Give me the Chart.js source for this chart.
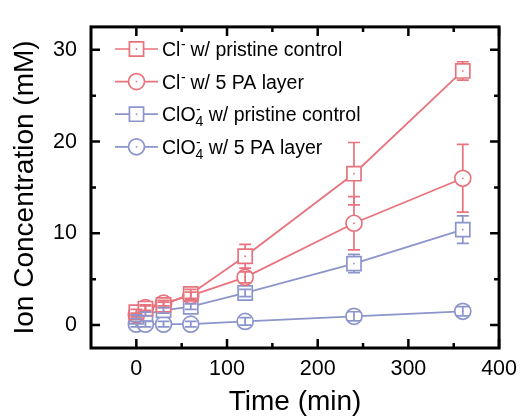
<!DOCTYPE html>
<html>
<head>
<meta charset="utf-8">
<script src="https://cdn.jsdelivr.net/npm/chart.js@4.4.1/dist/chart.umd.min.js"></script>
<style>
  html, body { margin: 0; padding: 0; background: #fff; }
</style>
</head>
<body>
<canvas id="ionChart" width="525" height="419"></canvas>
<script>
// ---- data ----
const times = [0, 10, 30, 60, 120, 240, 360];

const clPristine = [1.4, 1.8, 2.2, 3.4, 7.5, 16.5, 27.7];
const clPristineErr = [0.3, 0.3, 0.3, 0.5, 1.3, 3.4, 1.0];

const clPA = [1.1, 1.9, 2.4, 3.2, 5.2, 11.1, 16.0];
const clPAErr = [0.2, 0.3, 0.3, 0.4, 0.6, 2.9, 3.7];

const clo4Pristine = [0.9, 1.2, 1.6, 2.0, 3.5, 6.7, 10.4];
const clo4PristineErr = [0.2, 0.2, 0.3, 0.3, 0.4, 1.0, 1.5];

const clo4PA = [0.1, 0.1, 0.1, 0.1, 0.4, 0.95, 1.5];
const clo4PAErr = [0.3, 0.3, 0.3, 0.3, 0.4, 0.5, 0.5];

const xMajor = [0, 100, 200, 300, 400];
const xMinor = [50, 150, 250, 350];
const yMajor = [0, 10, 20, 30];
const yMinor = [5, 15, 25];

// legend pieces: base, superscript, subscript, rest
const legendText = [
  ['Cl', '-', '', ' w/ pristine control'],
  ['Cl', '-', '', ' w/ 5 PA layer'],
  ['ClO', '-', '4', ' w/ pristine control'],
  ['ClO', '-', '4', ' w/ 5 PA layer']
];

const RED = '#E8737D';
const BLUE = '#8C95CB';
const FONT = "'Liberation Sans', Arial, sans-serif";

function series(values, errs, color, shape) {
  return {
    data: times.map((t, i) => ({ x: t, y: values[i] })),
    errors: errs,
    borderColor: color,
    backgroundColor: color,
    borderWidth: 1.8,
    pointStyle: shape,
    pointRadius: shape === 'rect' ? 10 : 8,
    pointBorderWidth: 1.7,
    pointBorderColor: color,
    pointBackgroundColor: '#fff',
    pointHoverRadius: 0,
    tension: 0
  };
}

// markers' half height, used to start error bars at the marker edge
function halfSize(ds) {
  return ds.pointStyle === 'rect' ? ds.pointRadius * Math.SQRT1_2 : ds.pointRadius;
}

const errorBars = {
  id: 'errorBars',
  afterDatasetsDraw(chart) {
    const { ctx } = chart;
    const y = chart.scales.y;
    chart.data.datasets.forEach((ds, di) => {
      const meta = chart.getDatasetMeta(di);
      ctx.save();
      ctx.strokeStyle = ds.borderColor;
      ctx.fillStyle = ds.borderColor;
      ctx.lineWidth = 1.7;
      meta.data.forEach((pt, i) => {
        const v = ds.data[i].y, e = ds.errors[i];
        const yTop = y.getPixelForValue(v + e);
        const yBot = y.getPixelForValue(v - e);
        const h = halfSize(ds);
        ctx.beginPath();
        if (pt.y - yTop > h) { ctx.moveTo(pt.x, pt.y - h); } else { ctx.moveTo(pt.x, pt.y); }
        ctx.lineTo(pt.x, yTop);
        if (yBot - pt.y > h) { ctx.moveTo(pt.x, pt.y + h); } else { ctx.moveTo(pt.x, pt.y); }
        ctx.lineTo(pt.x, yBot);
        ctx.moveTo(pt.x - 6, yTop); ctx.lineTo(pt.x + 6, yTop);
        ctx.moveTo(pt.x - 6, yBot); ctx.lineTo(pt.x + 6, yBot);
        ctx.stroke();
        // center dot
        ctx.beginPath();
        ctx.arc(pt.x, pt.y, 0.9, 0, Math.PI * 2);
        ctx.fill();
      });
      ctx.restore();
    });
  }
};

// inward ticks on four sides + thick frame
const frame = {
  id: 'frame',
  afterDraw(chart) {
    const { ctx, chartArea: a } = chart;
    const xs = chart.scales.x, ys = chart.scales.y;
    ctx.save();
    ctx.strokeStyle = '#000';
    ctx.lineWidth = 2.5;
    ctx.beginPath();
    const tick = (vals, len) => {
      vals.forEach(v => {
        const px = xs.getPixelForValue(v);
        ctx.moveTo(px, a.bottom); ctx.lineTo(px, a.bottom - len);
        ctx.moveTo(px, a.top); ctx.lineTo(px, a.top + len);
      });
    };
    const tickY = (vals, len) => {
      vals.forEach(v => {
        const py = ys.getPixelForValue(v);
        ctx.moveTo(a.left, py); ctx.lineTo(a.left + len, py);
        ctx.moveTo(a.right, py); ctx.lineTo(a.right - len, py);
      });
    };
    tick(xMajor, 9); tick(xMinor, 5);
    tickY(yMajor, 9); tickY(yMinor, 5);
    ctx.stroke();
    ctx.lineWidth = 3;
    ctx.strokeRect(a.left, a.top, a.right - a.left, a.bottom - a.top);
    ctx.restore();
  }
};

const legendBox = {
  id: 'legendBox',
  afterDraw(chart) {
    const { ctx } = chart;
    ctx.save();
    chart.data.datasets.forEach((ds, i) => {
      const cy = 49 + i * 32.6;
      ctx.strokeStyle = ds.borderColor;
      ctx.fillStyle = '#fff';
      ctx.lineWidth = 1.7;
      ctx.beginPath();
      ctx.moveTo(115, cy); ctx.lineTo(158, cy);
      ctx.stroke();
      const mx = 136.5;
      ctx.beginPath();
      if (ds.pointStyle === 'rect') {
        const s = halfSize(ds);
        ctx.rect(mx - s, cy - s, 2 * s, 2 * s);
      } else {
        ctx.arc(mx, cy, ds.pointRadius, 0, Math.PI * 2);
      }
      ctx.fill();
      ctx.stroke();
      ctx.fillStyle = ds.borderColor;
      ctx.beginPath();
      ctx.arc(mx, cy, 0.9, 0, Math.PI * 2);
      ctx.fill();

      const [base, sup, sub, rest] = legendText[i];
      const by = cy + 7;
      let x = 162;
      ctx.fillStyle = '#000';
      ctx.textBaseline = 'alphabetic';
      ctx.font = '19.5px ' + FONT;
      ctx.fillText(base, x, by);
      x += ctx.measureText(base).width;
      ctx.font = '14px ' + FONT;
      ctx.fillText(sup, x + 0.5, by - 7);
      let w = ctx.measureText(sup).width;
      if (sub) {
        ctx.fillText(sub, x, by + 5);
        w = Math.max(w, ctx.measureText(sub).width);
      }
      x += w;
      ctx.font = '19.5px ' + FONT;
      ctx.fillText(rest, x, by);
    });
    ctx.restore();
  }
};

new Chart(document.getElementById('ionChart').getContext('2d'), {
  type: 'line',
  data: {
    datasets: [
      series(clPristine, clPristineErr, RED, 'rect'),
      series(clPA, clPAErr, RED, 'circle'),
      series(clo4Pristine, clo4PristineErr, BLUE, 'rect'),
      series(clo4PA, clo4PAErr, BLUE, 'circle')
    ]
  },
  options: {
    responsive: false,
    devicePixelRatio: 1,
    animation: false,
    events: [],
    layout: { padding: { top: 15, right: 21, left: 0, bottom: 0 } },
    plugins: { legend: { display: false }, tooltip: { enabled: false } },
    scales: {
      x: {
        type: 'linear',
        min: -50,
        max: 400,
        afterFit: s => { s.height = 71; },
        afterBuildTicks: s => { s.ticks = xMajor.map(v => ({ value: v })); },
        grid: { display: false, drawTicks: false },
        border: { display: false },
        ticks: { color: '#000', padding: 8, font: { family: FONT, size: 21.5 }, maxRotation: 0 },
        title: { display: true, text: 'Time (min)', color: '#000',
                 font: { family: FONT, size: 28, lineHeight: 1 }, padding: { top: 0, bottom: 3 } }
      },
      y: {
        type: 'linear',
        min: -2.5,
        max: 32.5,
        afterFit: s => { s.width = 91; },
        afterBuildTicks: s => { s.ticks = yMajor.map(v => ({ value: v })); },
        grid: { display: false, drawTicks: false },
        border: { display: false },
        ticks: { color: '#000', padding: 14, font: { family: FONT, size: 21.5 } },
        title: { display: true, text: 'Ion Concentration (mM)', color: '#000',
                 font: { family: FONT, size: 28, lineHeight: 1 }, padding: { top: 11, bottom: 0 } }
      }
    }
  },
  plugins: [errorBars, frame, legendBox]
});
</script>
</body>
</html>
